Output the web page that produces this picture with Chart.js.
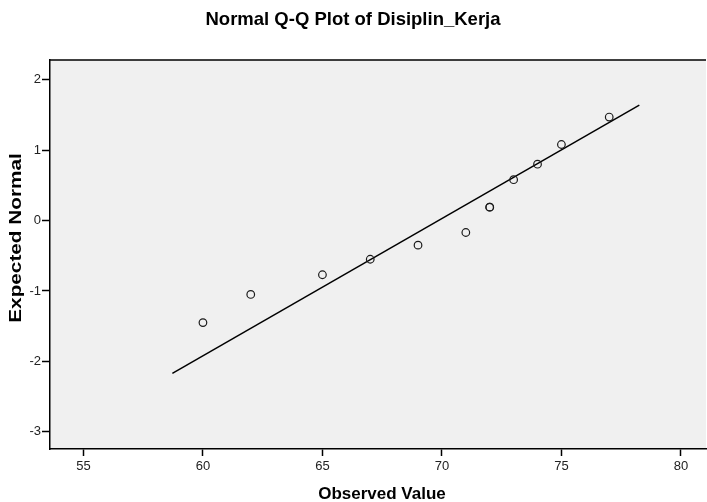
<!DOCTYPE html>
<html>
<head>
<meta charset="utf-8">
<title>Normal Q-Q Plot of Disiplin_Kerja</title>
<script src="https://cdn.jsdelivr.net/npm/chart.js@4.4.1/dist/chart.umd.min.js"></script>
<style>
    body { margin: 0; background: #fff; }
    #wrap { width: 707px; height: 502px; }
    canvas { display: block; }
</style>
</head>
<body>
<div id="wrap"><canvas id="qqChart" width="707" height="502"></canvas></div>
<script>
// Observed values and their expected normal scores
const observed = [60, 62, 65, 67, 69, 71, 72, 72, 73, 74, 75, 77];
const expected = [-1.45, -1.05, -0.77, -0.55, -0.35, -0.17, 0.19, 0.19, 0.58, 0.80, 1.08, 1.47];

// Reference line end points
const lineX = [58.72, 78.26];
const lineY = [-2.17, 1.64];

// Tick labels
const xTicks = [55, 60, 65, 70, 75, 80];
const yTicks = [-3, -2, -1, 0, 1, 2];

const FONT = "'Liberation Sans', Arial, sans-serif";

// Plot background, top border and axis titles
const frame = {
    id: 'frame',
    beforeDraw(chart) {
        const { ctx, chartArea: a } = chart;
        ctx.save();
        ctx.fillStyle = '#fff';
        ctx.fillRect(0, 0, chart.width, chart.height);
        ctx.fillStyle = '#f0f0f0';
        ctx.fillRect(a.left, a.top, a.right - a.left, a.bottom - a.top);
        ctx.strokeStyle = '#000';
        ctx.lineWidth = 1.5;
        ctx.beginPath();
        ctx.moveTo(a.left, a.top);
        ctx.lineTo(a.right, a.top);
        ctx.stroke();
        ctx.restore();
    },
    afterDraw(chart) {
        const ctx = chart.ctx;
        ctx.save();
        ctx.fillStyle = '#000';
        ctx.font = 'bold 17px ' + FONT;
        ctx.textAlign = 'center';
        ctx.textBaseline = 'alphabetic';
        ctx.fillText('Observed Value', 382, 499);
        // y title is drawn a bit stretched, like the original
        ctx.translate(21, 238);
        ctx.rotate(-Math.PI / 2);
        ctx.scale(1.22, 1);
        ctx.fillText('Expected Normal', 0, 0);
        ctx.restore();
    }
};

const qqChart = new Chart(document.getElementById('qqChart'), {
    type: 'scatter',
    data: {
        datasets: [
            {
                label: 'Observed',
                data: observed.map((v, i) => ({ x: v, y: expected[i] })),
                pointStyle: 'circle',
                pointRadius: 3.8,
                pointBackgroundColor: 'rgba(0,0,0,0)',
                pointBorderColor: '#1a1a1a',
                pointBorderWidth: 1.2
            },
            {
                type: 'line',
                label: 'Line',
                data: lineX.map((v, i) => ({ x: v, y: lineY[i] })),
                borderColor: '#000',
                borderWidth: 1.5,
                pointRadius: 0,
                fill: false
            }
        ]
    },
    options: {
        responsive: false,
        animation: false,
        layout: { autoPadding: false, padding: { left: 0, right: 1, top: 0, bottom: 0 } },
        plugins: {
            legend: { display: false },
            tooltip: { enabled: false },
            title: {
                display: true,
                text: 'Normal Q-Q Plot of Disiplin_Kerja',
                color: '#000',
                font: { family: FONT, size: 18.5, weight: 'bold' },
                padding: { top: 9, bottom: 28.8 }
            }
        },
        scales: {
            x: {
                type: 'linear',
                min: 53.6,
                max: 81.05,
                afterBuildTicks: scale => { scale.ticks = xTicks.map(v => ({ value: v })); },
                afterFit: scale => {
                    scale.height = 53;
                    scale.paddingLeft = 0;
                    scale.paddingRight = 0;
                },
                ticks: {
                    color: '#222',
                    padding: 3,
                    maxRotation: 0,
                    font: { family: FONT, size: 13 },
                    callback: v => String(v)
                },
                grid: {
                    drawOnChartArea: false,
                    drawTicks: true,
                    tickLength: 7,
                    tickColor: '#000',
                    tickWidth: 1.5
                },
                border: { display: true, color: '#000', width: 1.5 }
            },
            y: {
                type: 'linear',
                min: -3.245,
                max: 2.28,
                afterBuildTicks: scale => { scale.ticks = yTicks.map(v => ({ value: v })); },
                afterFit: scale => {
                    scale.width = 50;
                    scale.paddingTop = 0;
                    scale.paddingBottom = 0;
                },
                ticks: {
                    color: '#222',
                    padding: 1,
                    font: { family: FONT, size: 13 },
                    callback: v => String(v)
                },
                grid: {
                    drawOnChartArea: false,
                    drawTicks: true,
                    tickLength: 8,
                    tickColor: '#000',
                    tickWidth: 1.5
                },
                border: { display: true, color: '#000', width: 1.5 }
            }
        }
    },
    plugins: [frame]
});
</script>
</body>
</html>
